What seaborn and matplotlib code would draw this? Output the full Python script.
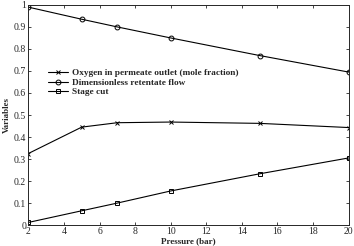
import matplotlib
matplotlib.use("Agg")
import matplotlib.pyplot as plt
import seaborn as sns

pressure = [2, 5, 7, 10, 15, 20]
oxygen = [0.325, 0.445, 0.465, 0.468, 0.462, 0.443]
retentate = [0.99, 0.935, 0.90, 0.85, 0.77, 0.695]
stage_cut = [0.012, 0.065, 0.10, 0.155, 0.233, 0.305]
labels = ["Oxygen in permeate outlet (mole fraction)",
          "Dimensionless retentate flow",
          "Stage cut"]

sns.set_style("ticks")
plt.rcParams["font.family"] = ["Liberation Serif", "DejaVu Serif"]

fig, ax = plt.subplots(figsize=(3.54, 2.46), dpi=100)
for vals, lab, mk in zip([oxygen, retentate, stage_cut], labels, ["x", "o", "s"]):
    sns.lineplot(x=pressure, y=vals, label=lab, marker=mk, color="black",
                 linewidth=0.8, markersize=3.5 if mk != "x" else 2.2,
                 markerfacecolor="none", markeredgecolor="black",
                 markeredgewidth=0.7, ax=ax)

ax.set_xlim(2, 20)
ax.set_ylim(0, 1)
ax.set_xticks(range(2, 21, 2))
ax.set_yticks([i / 10 for i in range(11)])
ax.set_yticklabels(["0", "0.1", "0.2", "0.3", "0.4", "0.5", "0.6", "0.7", "0.8", "0.9", "1"])
ax.tick_params(direction="in", top=True, right=True, labelsize=7, length=2, width=0.6, pad=1.5)
for s in ax.spines.values():
    s.set_linewidth(0.7)
ax.set_xlabel("Pressure (bar)", fontsize=6.5, fontweight="bold", labelpad=1)
ax.set_ylabel("Variables", fontsize=6.5, fontweight="bold", labelpad=2)

leg = ax.legend(loc="upper left", bbox_to_anchor=(0.04, 0.74), frameon=False,
                prop={"size": 6.7, "weight": "bold"}, handlelength=2.2,
                handletextpad=0.4, labelspacing=0.12, borderpad=0.2)

fig.subplots_adjust(left=0.08, right=0.985, bottom=0.085, top=0.98)
fig.savefig("out.png", dpi=100)
